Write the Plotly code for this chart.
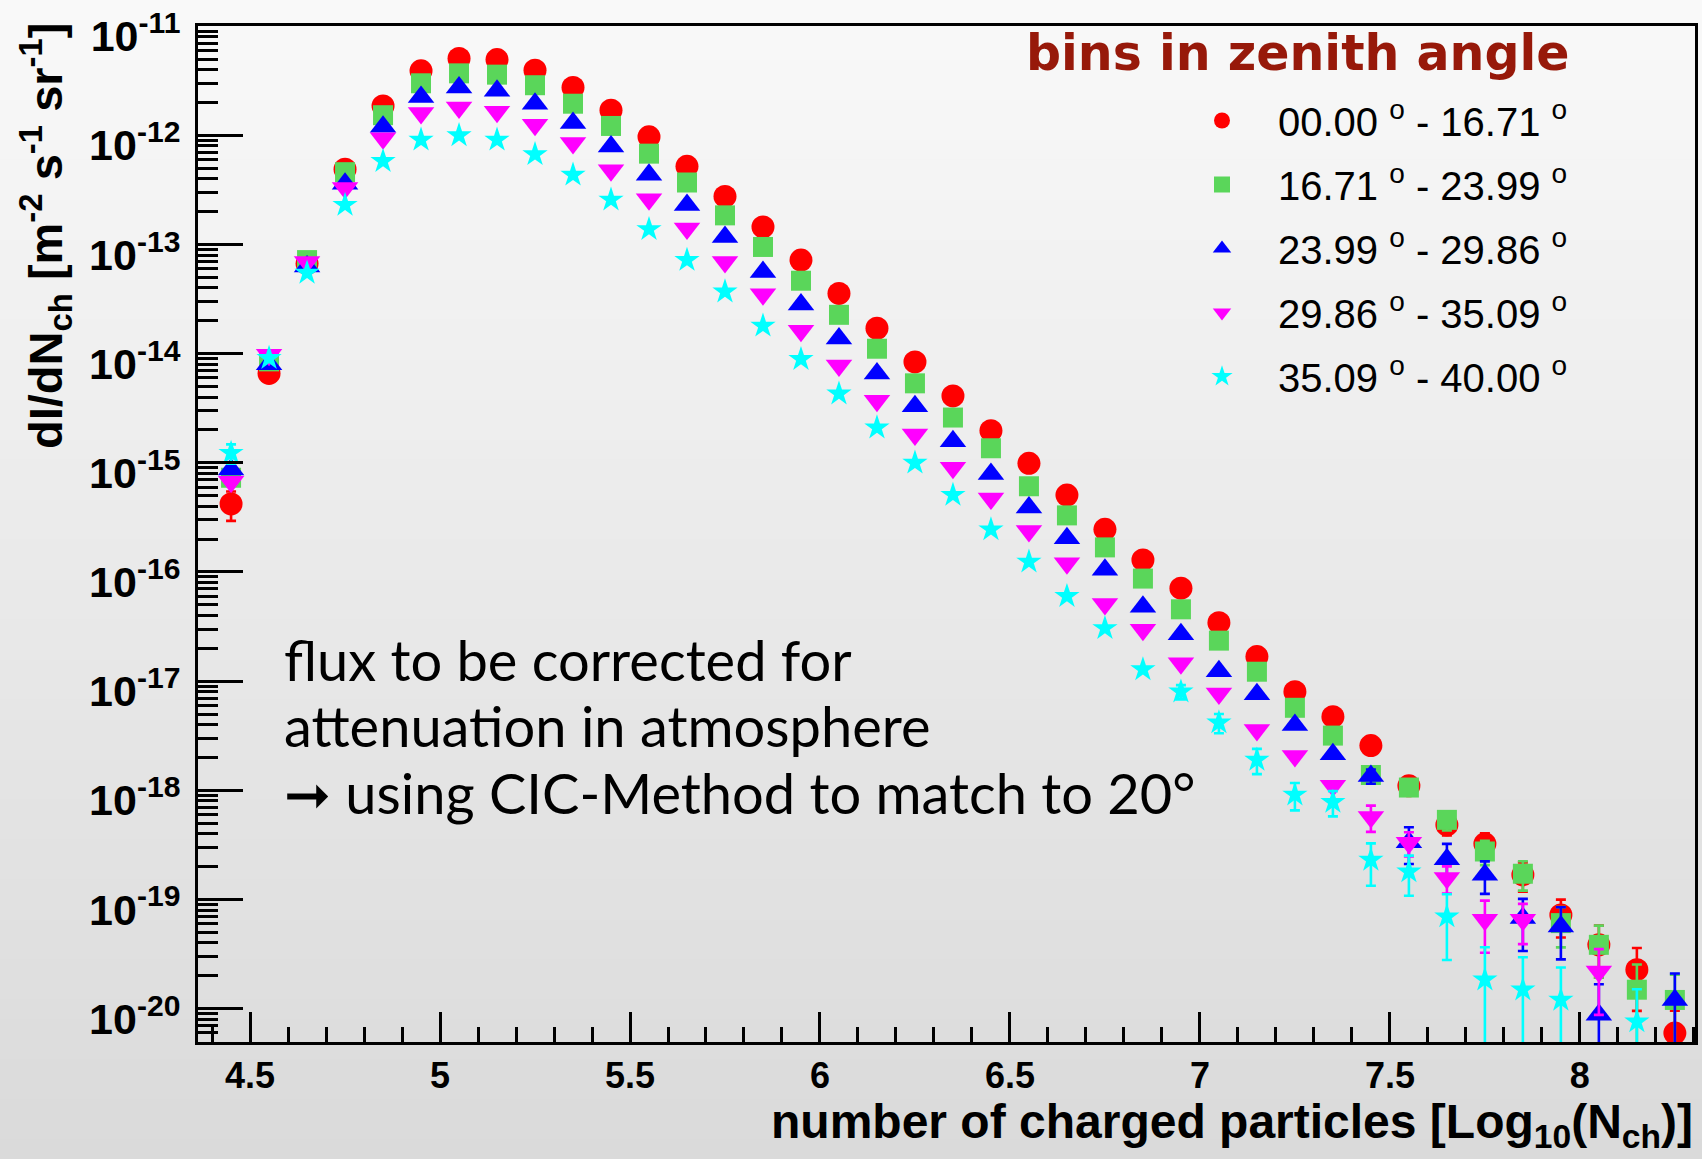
import plotly.graph_objects as go

# ---------------- data ----------------
log10_nch = [4.45, 4.55, 4.65, 4.75, 4.85, 4.95, 5.05, 5.15, 5.25, 5.35,
             5.45, 5.55, 5.65, 5.75, 5.85, 5.95, 6.05, 6.15, 6.25, 6.35,
             6.45, 6.55, 6.65, 6.75, 6.85, 6.95, 7.05, 7.15, 7.25, 7.35,
             7.45, 7.55, 7.65, 7.75, 7.85, 7.95, 8.05, 8.15, 8.25]

bin_labels = ["00.00 <sup>o</sup> - 16.71 <sup>o</sup>",
              "16.71 <sup>o</sup> - 23.99 <sup>o</sup>",
              "23.99 <sup>o</sup> - 29.86 <sup>o</sup>",
              "29.86 <sup>o</sup> - 35.09 <sup>o</sup>",
              "35.09 <sup>o</sup> - 40.00 <sup>o</sup>"]

flux_00_16 = [4.2e-16, 6.6e-15, 6.7e-14, 4.9e-13, 1.86e-12, 3.9e-12, 5.07e-12, 4.95e-12, 3.96e-12, 2.75e-12,
              1.7e-12, 9.7e-13, 5.2e-13, 2.76e-13, 1.45e-13, 7.2e-14, 3.56e-14, 1.71e-14, 8.4e-15, 4.1e-15,
              1.97e-15, 9.9e-16, 5.07e-16, 2.46e-16, 1.29e-16, 7.1e-17, 3.43e-17, 1.68e-17, 8.0e-18, 4.73e-18,
              2.57e-18, 1.10e-18, 4.82e-19, 3.23e-19, 1.68e-19, 7.22e-20, 3.84e-20, 2.27e-20, 5.97e-21]
flux_16_24 = [7.3e-16, 8.5e-15, 7.2e-14, 4.6e-13, 1.53e-12, 3.0e-12, 3.7e-12, 3.6e-12, 2.88e-12, 1.95e-12,
              1.22e-12, 6.8e-13, 3.7e-13, 1.85e-13, 9.5e-14, 4.66e-14, 2.27e-14, 1.11e-14, 5.35e-15, 2.6e-15,
              1.36e-15, 6.1e-16, 3.3e-16, 1.68e-16, 8.7e-17, 4.55e-17, 2.35e-17, 1.22e-17, 5.7e-18, 3.17e-18,
              1.38e-18, 1.06e-18, 5.36e-19, 2.75e-19, 1.72e-19, 6.07e-20, 3.84e-20, 1.49e-20, 1.2e-20]
flux_24_30 = [8.7e-16, 8.0e-15, 6.3e-14, 3.6e-13, 1.2e-12, 2.25e-12, 2.75e-12, 2.56e-12, 1.95e-12, 1.3e-12,
              7.9e-13, 4.35e-13, 2.3e-13, 1.17e-13, 5.6e-14, 2.82e-14, 1.38e-14, 6.6e-15, 3.3e-15, 1.58e-15,
              7.9e-16, 3.9e-16, 2.04e-16, 1.05e-16, 4.8e-17, 2.69e-17, 1.23e-17, 7.6e-18, 3.97e-18, 2.14e-18,
              1.35e-18, 3.35e-19, 2.34e-19, 1.68e-19, 6.75e-20, 5.65e-20, 8.8e-21, None, 1.2e-20]
flux_30_35 = [6.7e-16, 9.8e-15, 6.9e-14, 3.3e-13, 9.4e-13, 1.6e-12, 1.8e-12, 1.65e-12, 1.25e-12, 8.5e-13,
              4.8e-13, 2.6e-13, 1.4e-13, 6.9e-14, 3.5e-14, 1.62e-14, 7.8e-15, 3.7e-15, 1.82e-15, 9.0e-16,
              4.7e-16, 2.37e-16, 1.2e-16, 5.1e-17, 2.95e-17, 1.46e-17, 7.7e-18, 3.57e-18, 2.06e-18, 1.1e-18,
              5.7e-19, 3.3e-19, 1.57e-19, 6.5e-20, 6.5e-20, None, 2.19e-20, None, None]
flux_35_40 = [1.23e-15, 9.1e-15, 5.5e-14, 2.3e-13, 5.8e-13, 9.1e-13, 1.0e-12, 9.1e-13, 6.7e-13, 4.35e-13,
              2.57e-13, 1.38e-13, 7.2e-14, 3.7e-14, 1.8e-14, 8.9e-15, 4.3e-15, 2.1e-15, 1.0e-15, 5.07e-16,
              2.45e-16, 1.24e-16, 6.0e-17, 3.05e-17, 1.28e-17, 8.0e-18, 4.17e-18, 1.9e-18, 9.1e-19, 7.8e-19,
              2.3e-19, 1.8e-19, 6.97e-20, 1.84e-20, 1.49e-20, 1.2e-20, None, 7.6e-21, None]

# relative (linear) statistical errors, 0 where the bar hides behind the marker
relerr_00_16 = [0.3] + [0] * 31 + [0.2, 0.25, 0.3, 0.38, 0.5, 0.58, 0.6]
relerr_16_24 = [0] * 32 + [0.2, 0.25, 0.3, 0.4, 0.5, 0.7, 0.7]
relerr_24_30 = [0] * 30 + [0.15, 0.37, 0.38, 0.33, 0.5, 0.5, 0.9, 0, 0.75]
relerr_30_35 = [0] * 30 + [0.27, 0.25, 0.28, 0.5, 0.4, 0, 0.6, 0, 0]
relerr_35_40 = [0.2] + [0] * 24 + [0.15, 0.2, 0.26, 0.28, 0.26, 0.42, 0.4, 0.6, 0.98, 0.98, 0.98, 0, 0.98, 0]

annotation_lines = ["flux to be corrected for",
                    "attenuation in atmosphere",
                    "\u279e using CIC-Method to match to 20°"]

series = [flux_00_16, flux_16_24, flux_24_30, flux_30_35, flux_35_40]
relerrs = [relerr_00_16, relerr_16_24, relerr_24_30, relerr_30_35, relerr_35_40]

# ---------------- styles ----------------
colors = ["#ff0000", "#5ad65a", "#0000ff", "#ff00ff", "#00ffff"]
symbols = ["circle", "square", "triangle-up", "triangle-down", "star"]
msizes = [23, 20, 23, 23, 19]

Y_MIN_LOG, Y_MAX_LOG = -20.306, -10.998
X_RANGE = [4.363, 8.303]
W, H = 1702, 1159
ML, MR, MT, MB = 198, 7, 26, 117
PW, PH = W - ML - MR, H - MT - MB


def px_to_paper_x(px):
    return (px - ML) / PW


def px_to_paper_y(py):
    return (H - MB - py) / PH


fig = go.Figure()

for vals, rel, name, col, sym, ms in zip(series, relerrs, bin_labels, colors, symbols, msizes):
    err = [None if (v is None or r == 0) else v * r for v, r in zip(vals, rel)]
    fig.add_trace(go.Scatter(
        x=log10_nch, y=vals, mode="markers", name=name, legendgroup=name,
        marker=dict(symbol=sym, size=ms, color=col, line=dict(width=0)),
        error_y=dict(type="data", array=err, symmetric=True, color=col,
                     thickness=2.6, width=5),
    ))

# background vertical gradient (decoration)
shapes = []
nb = 58
for i in range(nb):
    p0 = H * i / nb
    p1 = H * (i + 1) / nb + 1
    g = int(round(249 - 31 * (i + 0.5) / nb))
    shapes.append(dict(type="rect", xref="paper", yref="paper", layer="below",
                       x0=px_to_paper_x(0), x1=px_to_paper_x(W),
                       y0=px_to_paper_y(p1), y1=px_to_paper_y(p0),
                       fillcolor=f"rgb({g},{g},{g})", line=dict(width=0)))

decades = list(range(-20, -10))
major_vals = [10.0 ** d for d in decades]
major_text = [f"10<sup>{d}</sup>" for d in decades]
minor_vals = [k * 10.0 ** d for d in range(-21, -11) for k in range(2, 10)]

# plotly renders log-axis tick labels at 0.75 of the font size, hence 43 -> ~32 px
ytick_font = dict(family="Liberation Sans", size=43, color="black", weight="bold")
xtick_font = dict(family="Liberation Sans", size=36, color="black", weight="bold")
title_font = dict(family="Liberation Sans", size=47, color="black", weight="bold")

annotations = [
    dict(text="number of charged particles [Log<sub>10</sub>(N<sub>ch</sub>)]",
         xref="paper", yref="paper", x=px_to_paper_x(1695), y=px_to_paper_y(1125),
         xanchor="right", yanchor="middle", showarrow=False,
         font=dict(title_font, size=48)),
    dict(text="dI/dN<sub>ch</sub> [m<sup>-2</sup> s<sup>-1</sup> sr<sup>-1</sup>]",
         xref="paper", yref="paper", x=px_to_paper_x(45), y=px_to_paper_y(21),
         xanchor="center", yanchor="top", textangle=-90, showarrow=False,
         font=title_font),
    dict(text="bins in zenith angle",
         xref="paper", yref="paper", x=px_to_paper_x(1024), y=px_to_paper_y(54),
         xanchor="left", yanchor="middle", showarrow=False,
         font=dict(family="DejaVu Sans", size=49, color="#97190a", weight="bold")),
]
line_centres_px = [659, 725, 792]
for txt, cy in zip(annotation_lines, line_centres_px):
    annotations.append(dict(text=txt, xref="paper", yref="paper",
                            x=px_to_paper_x(282), y=px_to_paper_y(cy),
                            xanchor="left", yanchor="middle", align="left",
                            showarrow=False,
                            font=dict(family="Lato", size=56, color="black")))

fig.update_layout(
    width=W, height=H,
    margin=dict(l=ML, r=MR, t=MT, b=MB, pad=0, autoexpand=False),
    paper_bgcolor="#eaeaea",
    plot_bgcolor="rgba(0,0,0,0)",
    shapes=shapes,
    showlegend=True,
    legend=dict(
        x=px_to_paper_x(1166), y=px_to_paper_y(88), xanchor="left", yanchor="top",
        bgcolor="rgba(0,0,0,0)", borderwidth=0,
        font=dict(family="Liberation Sans", size=40, color="black"),
        itemsizing="trace", tracegroupgap=9, itemwidth=102,
    ),
    xaxis=dict(
        range=X_RANGE, showgrid=False, zeroline=False, automargin=False,
        showline=True, linecolor="black", linewidth=3, mirror=True,
        ticks="inside", ticklen=30, tickwidth=2.5, tickcolor="black",
        tick0=4.5, dtick=0.5, tickfont=xtick_font,
        ticklabelstandoff=0,
        minor=dict(dtick=0.1, tick0=4.5, ticks="inside", ticklen=15,
                   tickwidth=2.5, tickcolor="black", showgrid=False),
    ),
    yaxis=dict(
        type="log", range=[Y_MIN_LOG, Y_MAX_LOG], showgrid=False, zeroline=False,
        automargin=False,
        showline=True, linecolor="black", linewidth=3, mirror=True,
        ticks="inside", ticklen=45, tickwidth=2.5, tickcolor="black",
        tickmode="array", tickvals=major_vals, ticktext=major_text,
        tickfont=ytick_font, ticklabelstandoff=6, ticklabelshift=10,
        ticklabeloverflow="allow",
        minor=dict(tickmode="array", tickvals=minor_vals, ticks="inside",
                   ticklen=20, tickwidth=3, tickcolor="black", showgrid=False),
    ),
    annotations=annotations,
)

fig.write_html("out.html")
